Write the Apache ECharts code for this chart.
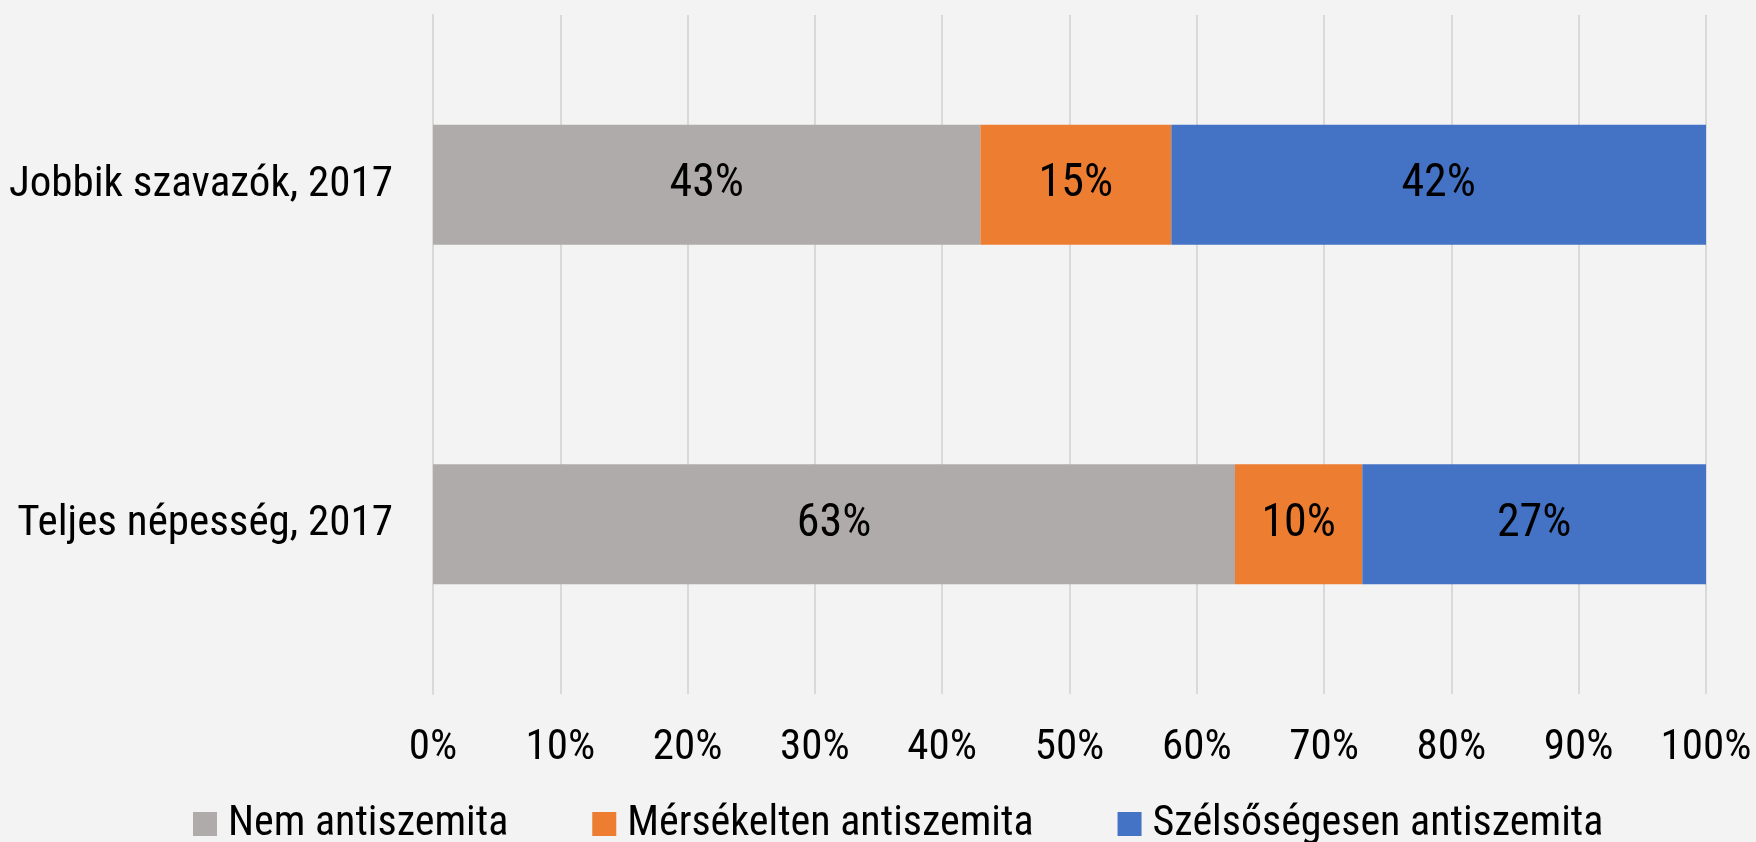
<!DOCTYPE html>
<html>
<head>
<meta charset="utf-8">
<script src="https://cdn.jsdelivr.net/npm/echarts@6/dist/echarts.min.js"></script>
<style>
  html, body { margin: 0; padding: 0; background: #f3f3f3; }
  #chart { width: 1756px; height: 842px; }
</style>
</head>
<body>
<div id="chart"></div>
<script>
// groups, bottom to top as the y axis draws them
const categories = ['Teljes népesség, 2017', 'Jobbik szavazók, 2017']
const nemAntiszemita = [63, 43]
const merseklten = [10, 15]
const szelsoseges = [27, 42]

const font = '"Roboto Condensed", "Liberation Sans Narrow", Roboto, sans-serif'

const chart = echarts.init(document.getElementById('chart'))

function barSeries(name, data, color) {
  return {
    name: name,
    type: 'bar',
    stack: 'total',
    barWidth: 120,
    data: data,
    itemStyle: { color: color },
    label: {
      show: true,
      position: 'inside',
      formatter: '{c}%',
      color: '#000',
      fontSize: 46,
      fontFamily: font
    }
  }
}

chart.setOption({
  backgroundColor: '#f3f3f3',
  textStyle: { fontFamily: font },
  grid: { left: 433, right: 50, top: 15, bottom: 148 },
  legend: {
    top: 798,
    left: 188,
    itemWidth: 24,
    itemHeight: 24,
    itemGap: 84,
    icon: 'rect',
    textStyle: { fontSize: 42, color: '#000', fontFamily: font, padding: [0, 0, 0, 6] },
    data: ['Nem antiszemita', 'Mérsékelten antiszemita', 'Szélsőségesen antiszemita']
  },
  xAxis: {
    type: 'value',
    min: 0,
    max: 100,
    interval: 10,
    axisLabel: { formatter: '{value}%', fontSize: 43, color: '#000', margin: 33 },
    axisLine: { show: false },
    axisTick: { show: false },
    splitLine: { show: true, lineStyle: { color: '#d9d9d9', width: 2 } }
  },
  yAxis: {
    type: 'category',
    data: categories,
    axisLabel: { fontSize: 43, color: '#000', margin: 40 },
    axisLine: { show: true, lineStyle: { color: '#d9d9d9', width: 2 } },
    axisTick: { show: false }
  },
  series: [
    barSeries('Nem antiszemita', nemAntiszemita, '#afabab'),
    barSeries('Mérsékelten antiszemita', merseklten, '#ed7d31'),
    barSeries('Szélsőségesen antiszemita', szelsoseges, '#4472c4')
  ]
})
</script>
</body>
</html>
